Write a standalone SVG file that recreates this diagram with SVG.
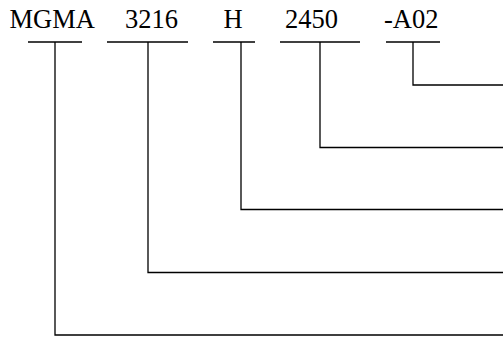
<svg xmlns="http://www.w3.org/2000/svg" width="503" height="338" viewBox="0 0 503 338">
<style>
.t{font-family:"Liberation Serif","Times New Roman",serif;font-size:26.5px;fill:#000}
.l{fill:none;stroke:#000;stroke-width:1.3}
</style>
<rect width="503" height="338" fill="#fff"/>
<g id="n1"><text class="t" x="9.5" y="27.5">MGMA</text><line class="l" x1="28" y1="42" x2="82" y2="42"/></g>
<g id="n2"><text class="t" x="125" y="27.5">3216</text><line class="l" x1="107" y1="42" x2="188" y2="42"/></g>
<g id="n3"><text class="t" x="223.5" y="27.5">H</text><line class="l" x1="213" y1="42" x2="255" y2="42"/></g>
<g id="n4"><text class="t" x="285" y="27.5">2450</text><line class="l" x1="280" y1="42" x2="360" y2="42"/></g>
<g id="n5"><text class="t" x="384" y="27.5">-A02</text><line class="l" x1="386" y1="42" x2="440" y2="42"/></g>
<g id="connectors">
<polyline class="l" points="413,42 413,85 503,85"/>
<polyline class="l" points="320,42 320,147.5 503,147.5"/>
<polyline class="l" points="241,42 241,209.5 503,209.5"/>
<polyline class="l" points="148,42 148,272.5 503,272.5"/>
<polyline class="l" points="55,42 55,335 503,335"/>
</g>
</svg>
